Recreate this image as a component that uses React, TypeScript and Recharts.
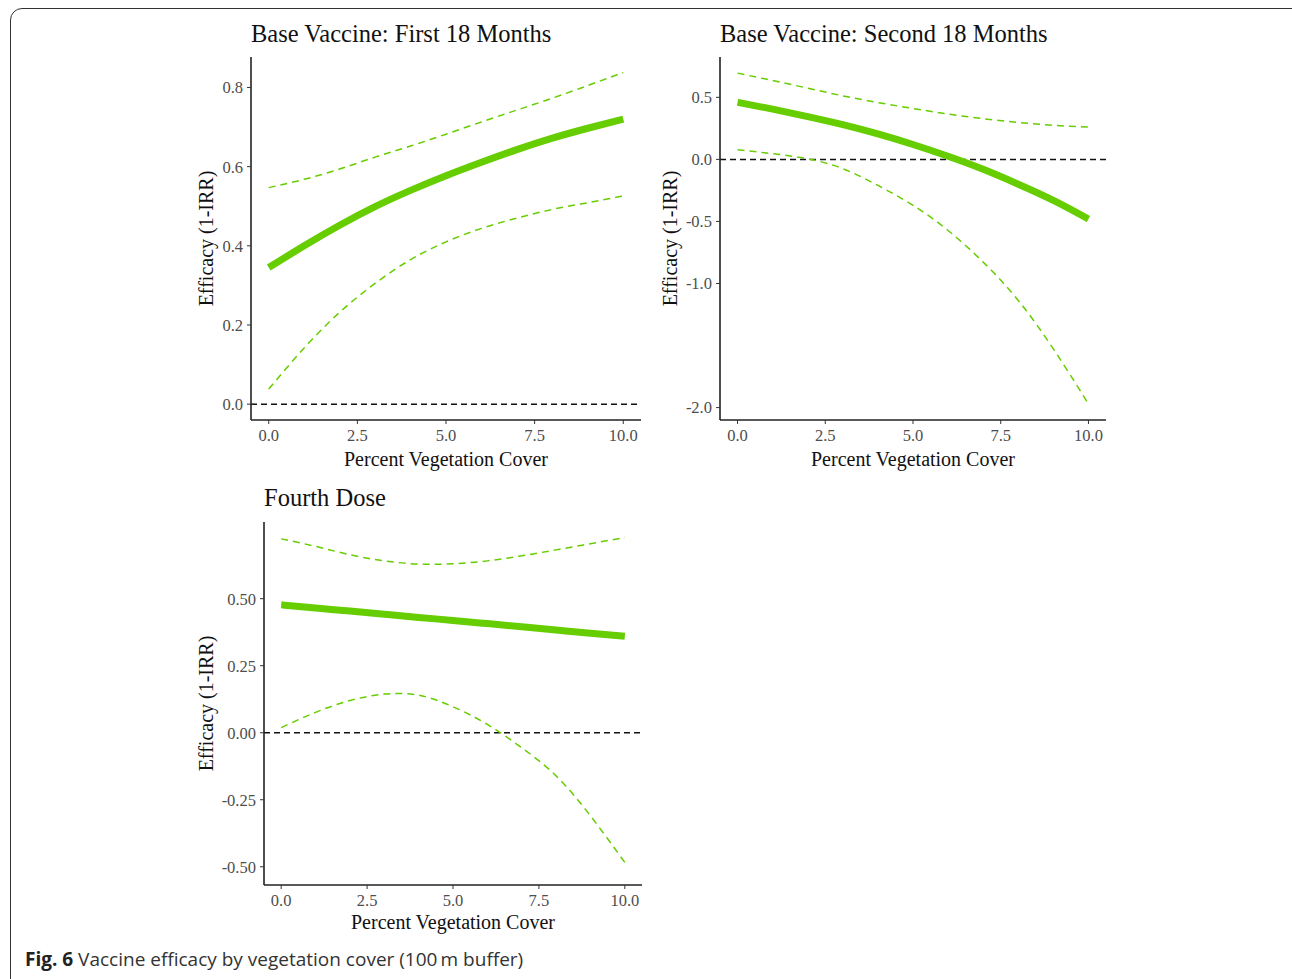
import React from "react";
import { LineChart, Line, XAxis, YAxis, ReferenceLine } from "recharts";

const GREEN = "#66CD00";
const SERIF = "'Liberation Serif', 'Times New Roman', serif";

const cover = [0, 1, 2, 3, 4, 5, 6, 7, 8, 9, 10];
const xTicks = [0, 2.5, 5, 7.5, 10];

// Base vaccine, first 18 months
const firstEst = [0.345, 0.4, 0.452, 0.499, 0.54, 0.577, 0.611, 0.643, 0.672, 0.697, 0.72];
const firstLow = [0.038, 0.142, 0.232, 0.305, 0.365, 0.41, 0.444, 0.47, 0.492, 0.509, 0.526];
const firstHigh = [0.547, 0.568, 0.594, 0.624, 0.652, 0.682, 0.713, 0.743, 0.773, 0.805, 0.838];
const firstTicks = [0, 0.2, 0.4, 0.6, 0.8];

// Base vaccine, second 18 months
const secondEst = [0.46, 0.405, 0.345, 0.28, 0.205, 0.12, 0.025, -0.08, -0.2, -0.33, -0.48];
const secondLow = [0.078, 0.046, 0.005, -0.075, -0.21, -0.37, -0.573, -0.828, -1.137, -1.527, -1.97];
const secondHigh = [0.695, 0.635, 0.574, 0.512, 0.458, 0.41, 0.365, 0.328, 0.298, 0.275, 0.26];
const secondTicks = [-2, -1, -0.5, 0, 0.5];

// Fourth dose
const fourthEst = [0.477, 0.465, 0.454, 0.442, 0.43, 0.419, 0.407, 0.395, 0.383, 0.371, 0.36];
const fourthLow = [0.019, 0.076, 0.12, 0.144, 0.14, 0.097, 0.031, -0.056, -0.161, -0.31, -0.484];
const fourthHigh = [0.723, 0.695, 0.664, 0.641, 0.629, 0.63, 0.641, 0.66, 0.682, 0.705, 0.728];
const fourthTicks = [-0.5, -0.25, 0, 0.25, 0.5];

const rows = (est: number[], low: number[], high: number[]) =>
  cover.map((x, i) => ({ x, est: est[i], low: low[i], high: high[i] }));

type PanelProps = {
  left: number;
  top: number;
  right: number;
  marginTop: number;
  yWidth: number;
  labelOffset: number;
  xLabelOffset: number;
  data: { x: number; est: number; low: number; high: number }[];
  yDomain: [number, number];
  yTicks: number[];
  digits: number;
};

const Panel = (p: PanelProps) => (
  <div style={{ position: "absolute", left: p.left, top: p.top }}>
    <LineChart
      width={480}
      height={480}
      data={p.data}
      margin={{ top: p.marginTop, right: p.right, bottom: 480 - p.marginTop - 363 - 50, left: 0 }}
      style={{ fontFamily: SERIF }}
    >
      <XAxis
        dataKey="x"
        type="number"
        domain={[-0.5, 10.5]}
        ticks={xTicks}
        allowDataOverflow
        tickFormatter={(v: number) => v.toFixed(1)}
        height={50}
        axisLine={{ stroke: "#222", strokeWidth: 1.6 }}
        tickLine={{ stroke: "#333" }}
        tickSize={4}
        tickMargin={5}
        tick={{ fill: "#4d4d4d", fontSize: 16.5, fontFamily: SERIF }}
        label={{ value: "Percent Vegetation Cover", position: "insideBottom", offset: p.xLabelOffset, fill: "#111", fontSize: 20 }}
      />
      <YAxis
        type="number"
        domain={p.yDomain}
        ticks={p.yTicks}
        allowDataOverflow
        tickFormatter={(v: number) => v.toFixed(p.digits)}
        width={p.yWidth}
        axisLine={{ stroke: "#222", strokeWidth: 1.6 }}
        tickLine={{ stroke: "#333" }}
        tickSize={4}
        tickMargin={4}
        tick={{ fill: "#4d4d4d", fontSize: 16.5, fontFamily: SERIF }}
        label={{
          value: "Efficacy (1-IRR)",
          angle: -90,
          position: "insideLeft",
          offset: p.labelOffset,
          fill: "#111",
          fontSize: 20,
          style: { textAnchor: "middle" },
        }}
      />
      <ReferenceLine y={0} stroke="#111" strokeWidth={1.5} strokeDasharray="6 4" />
      <Line type="natural" dataKey="high" stroke={GREEN} strokeWidth={1.5} strokeDasharray="7 5" dot={false} isAnimationActive={false} />
      <Line type="natural" dataKey="low" stroke={GREEN} strokeWidth={1.5} strokeDasharray="7 5" dot={false} isAnimationActive={false} />
      <Line type="natural" dataKey="est" stroke={GREEN} strokeWidth={7} dot={false} isAnimationActive={false} />
    </LineChart>
  </div>
);

const titleStyle: React.CSSProperties = {
  position: "absolute",
  fontFamily: SERIF,
  fontSize: 24.5,
  lineHeight: "24px",
  color: "#111",
  whiteSpace: "nowrap",
};

export default function App() {
  return (
    <div style={{ position: "absolute", left: 0, top: 0, width: 1292, height: 979, overflow: "hidden", background: "#fff" }}>
      <div
        style={{
          position: "absolute",
          left: 10,
          top: 8,
          width: 1295,
          height: 985,
          border: "1.5px solid #333",
          borderRadius: 12,
          boxSizing: "border-box",
        }}
      />
      <div style={{ ...titleStyle, left: 251, top: 22 }}>Base Vaccine: First 18 Months</div>
      <div style={{ ...titleStyle, left: 720, top: 22 }}>Base Vaccine: Second 18 Months</div>
      <div style={{ ...titleStyle, left: 264, top: 486 }}>Fourth Dose</div>

      <Panel
        left={180}
        top={0}
        right={19}
        marginTop={57}
        yWidth={71}
        labelOffset={26}
        xLabelOffset={4}
        data={rows(firstEst, firstLow, firstHigh)}
        yDomain={[-0.04, 0.877]}
        yTicks={firstTicks}
        digits={1}
      />
      <Panel
        left={650}
        top={0}
        right={24}
        marginTop={57}
        yWidth={70}
        labelOffset={20}
        xLabelOffset={4}
        data={rows(secondEst, secondLow, secondHigh)}
        yDomain={[-2.1, 0.825]}
        yTicks={secondTicks}
        digits={1}
      />
      <Panel
        left={190}
        top={470}
        right={28}
        marginTop={52}
        yWidth={74}
        labelOffset={16}
        xLabelOffset={6}
        data={rows(fourthEst, fourthLow, fourthHigh)}
        yDomain={[-0.568, 0.786]}
        yTicks={fourthTicks}
        digits={2}
      />

      <div
        style={{
          position: "absolute",
          left: 25,
          top: 946,
          fontFamily: "'Open Sans', sans-serif",
          fontSize: 19,
          lineHeight: "26px",
          color: "#333",
          whiteSpace: "nowrap",
        }}
      >
        <b style={{ color: "#222" }}>Fig. 6</b> Vaccine efficacy by vegetation cover (100&#8201;m buffer)
      </div>
    </div>
  );
}
